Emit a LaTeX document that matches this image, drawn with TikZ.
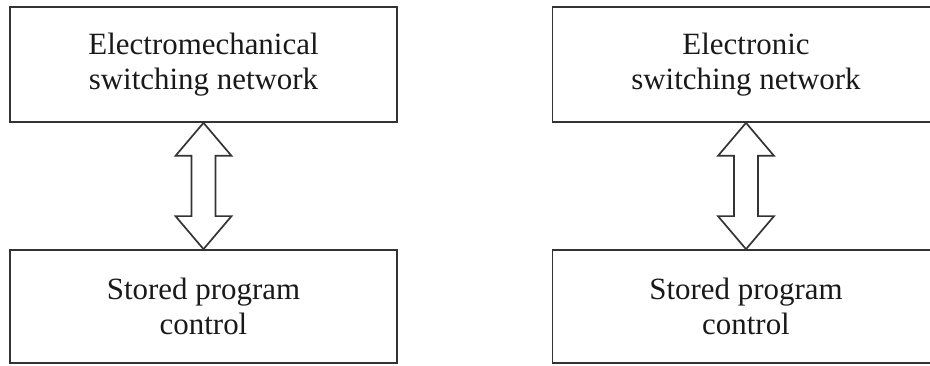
\documentclass[tikz,border=0pt]{standalone}
\usepackage{fontspec}
\setmainfont{Liberation Serif}
\usepackage{tikz}
\usetikzlibrary{positioning,calc}

\begin{document}
\begin{tikzpicture}[font=\fontsize{22}{25}\selectfont,
  blk/.style={draw=black!80,line width=1.2pt,minimum width=9.675cm,inner sep=0pt,align=center,text=black!90},
  hollow/.style={draw=black!80,line width=1.2pt,line join=miter,fill=white}]
\useasboundingbox (0,0) rectangle (23.25,9.125);
% upper row
\node[blk,minimum height=2.875cm] (emsn) at (5.0875,7.5125) {Electromechanical\\switching network};
\node[blk,minimum height=2.875cm] (esn) at (18.65,7.5125) {Electronic\\switching network};
% lower row
\node[blk,minimum height=2.825cm] (spcL) at (5.0875,1.4625) {Stored program\\control};
\node[blk,minimum height=2.825cm] (spcR) at (18.65,1.4625) {Stored program\\control};
% two-way block arrows
\foreach \a/\b in {emsn/spcL,esn/spcR}
  \draw[hollow] (\a.south) -- ($(\a.south)+(0.7,-0.825)$) -- ($(\a.south)+(0.3,-0.825)$)
    -- ($(\b.north)+(0.3,0.825)$) -- ($(\b.north)+(0.7,0.825)$) -- (\b.north)
    -- ($(\b.north)+(-0.7,0.825)$) -- ($(\b.north)+(-0.3,0.825)$)
    -- ($(\a.south)+(-0.3,-0.825)$) -- ($(\a.south)+(-0.7,-0.825)$) -- cycle;
\end{tikzpicture}
\end{document}
